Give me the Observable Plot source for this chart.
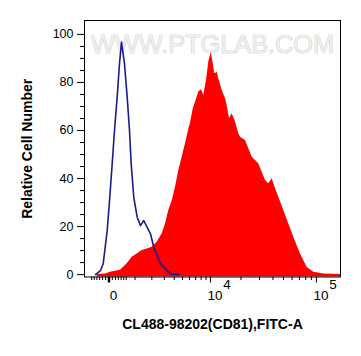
<!DOCTYPE html>
<html><head><meta charset="utf-8">
<script src="https://cdn.jsdelivr.net/npm/d3@7"></script>
<script src="https://cdn.jsdelivr.net/npm/@observablehq/plot@0.6"></script>
<style>body{margin:0;background:#fff}</style>
</head><body><div id="chart"></div>
<script>
// Isotype control (blue line)
const blueX = [-452, -269, -179, -53, 23, 96, 169, 259, 340, 414, 530, 641, 741, 817, 940, 1110, 1288, 1477, 1687, 1905, 2138, 2664, 3596, 4530];
const blueY = [0, 1.7, 4.5, 18.3, 32.2, 46.1, 60, 73.9, 87.8, 96.8, 87.8, 73.9, 60, 46.1, 32.2, 23.9, 20.4, 22.5, 19.7, 17, 11.4, 4.5, 0.3, 0];
// CL488-98202 (CD81) stained (red filled)
const redX = [-388, -105, 44, 377, 641, 864, 1110, 1384, 1687, 2023, 2396, 2809, 3106, 3423, 3774, 4140, 4530, 4961, 5410, 5888, 6149, 6581, 6971, 7561, 8075, 8535, 9104, 9614, 10174, 10662, 11066, 11698, 12137, 13121, 14145, 14700, 15481, 16446, 17706, 19050, 19785, 22080, 23740, 25570, 27460, 29500, 31740, 34070, 36570, 39320, 42200, 45270, 50350, 55940, 62160, 71570, 82420, 94630, 116630, 165200];
const redY = [0, 0.3, 1.0, 1.8, 4.5, 7.2, 8.6, 10, 10.7, 11.4, 13.5, 17, 21.1, 26.7, 30.8, 36.4, 43.3, 48.9, 54.5, 60.5, 63, 69, 71.8, 76, 77, 74.6, 80.8, 88.5, 92.6, 87.8, 83.6, 84.3, 81.5, 76.7, 73.2, 70.4, 64.9, 67, 63.5, 58.6, 57.2, 55.8, 52.4, 48.9, 47.5, 46.1, 42.6, 39.2, 37.8, 39.9, 35.7, 32.2, 26.7, 21.1, 15.5, 8.6, 3, 1, 0.3, 0];

const yMajorTicks = [0, 20, 40, 60, 80, 100];
const yMinorTicks = [5, 10, 15, 25, 30, 35, 45, 50, 55, 65, 70, 75, 85, 90, 95];
const xZeroTick = [0];
const xMajorTicks = [10000, 100000];
const xMinorTicks = [-600, -500, -400, -300, -200, -100, 100, 200, 300, 400, 500, 600,
  1000, 2000, 3000, 4000, 5000, 6000, 7000, 8000, 9000,
  20000, 30000, 40000, 50000, 60000, 70000, 80000, 90000];
const xLabelValues = [0, 10000, 100000];
const xLabelBases = ["0", "10", "10"];
const xLabelExps = ["", "4", "5"];
const xTitle = "CL488-98202(CD81),FITC-A";
const yTitle = "Relative Cell Number";
const watermark = "WWW.PTGLAB.COM";

const red = redX.map((x, i) => ({x, y: redY[i]}));
const blue = blueX.map((x, i) => ({x, y: blueY[i]}));
const labels = xLabelValues.map((v, i) => ({v, base: xLabelBases[i], exp: xLabelExps[i]}));

const chart = Plot.plot({
  width: 361, height: 356,
  marginLeft: 84, marginRight: 21, marginTop: 20, marginBottom: 79.5,
  style: {fontFamily: "'Liberation Sans', Arial, sans-serif", background: "#fff", color: "#000"},
  x: {type: "symlog", constant: 1408, domain: [-925, 165200]},
  y: {domain: [-1, 105.8]},
  marks: [
    Plot.text([watermark], {frameAnchor: "top", dy: 14.9, fontSize: 25.3, fill: "#efefef", stroke: "#bdbdbd", strokeWidth: 0.7}),
    Plot.area(red, {x1: "x", y1: () => -1, y2: "y", fill: "#ff0000"}),
    Plot.line(blue, {x: "x", y: "y", stroke: "#1b1b8f", strokeWidth: 1.6}),
    Plot.frame({stroke: "#000"}),
    Plot.axisY({ticks: yMajorTicks, tickSize: 7, tickPadding: 4, fontSize: 12.5, label: null}),
    Plot.axisY({ticks: yMinorTicks, tickSize: 4, text: null, label: null}),
    Plot.axisX({ticks: xZeroTick, tickSize: 6, strokeWidth: 2.5, text: null, label: null}),
    Plot.axisX({ticks: xMajorTicks, tickSize: 6, text: null, label: null}),
    Plot.axisX({ticks: xMinorTicks, tickSize: 3.5, text: null, label: null}),
    Plot.text(labels, {x: "v", text: "base", frameAnchor: "bottom", dy: 22.7, dx: 4.5, fontSize: 13.5, fill: "#000"}),
    Plot.text(labels, {x: "v", text: "exp", frameAnchor: "bottom", dy: 12.2, dx: 16.5, fontSize: 13.5, fill: "#000"}),
    Plot.text([xTitle], {frameAnchor: "bottom", dy: 52, fontSize: 14, fontWeight: "bold", fill: "#000"}),
    Plot.text([yTitle], {frameAnchor: "left", textAnchor: "middle", rotate: -90, dx: -56.5, fontSize: 14, fontWeight: "bold", fill: "#000"})
  ]
});
document.getElementById("chart").appendChild(chart);
</script>
</body></html>
